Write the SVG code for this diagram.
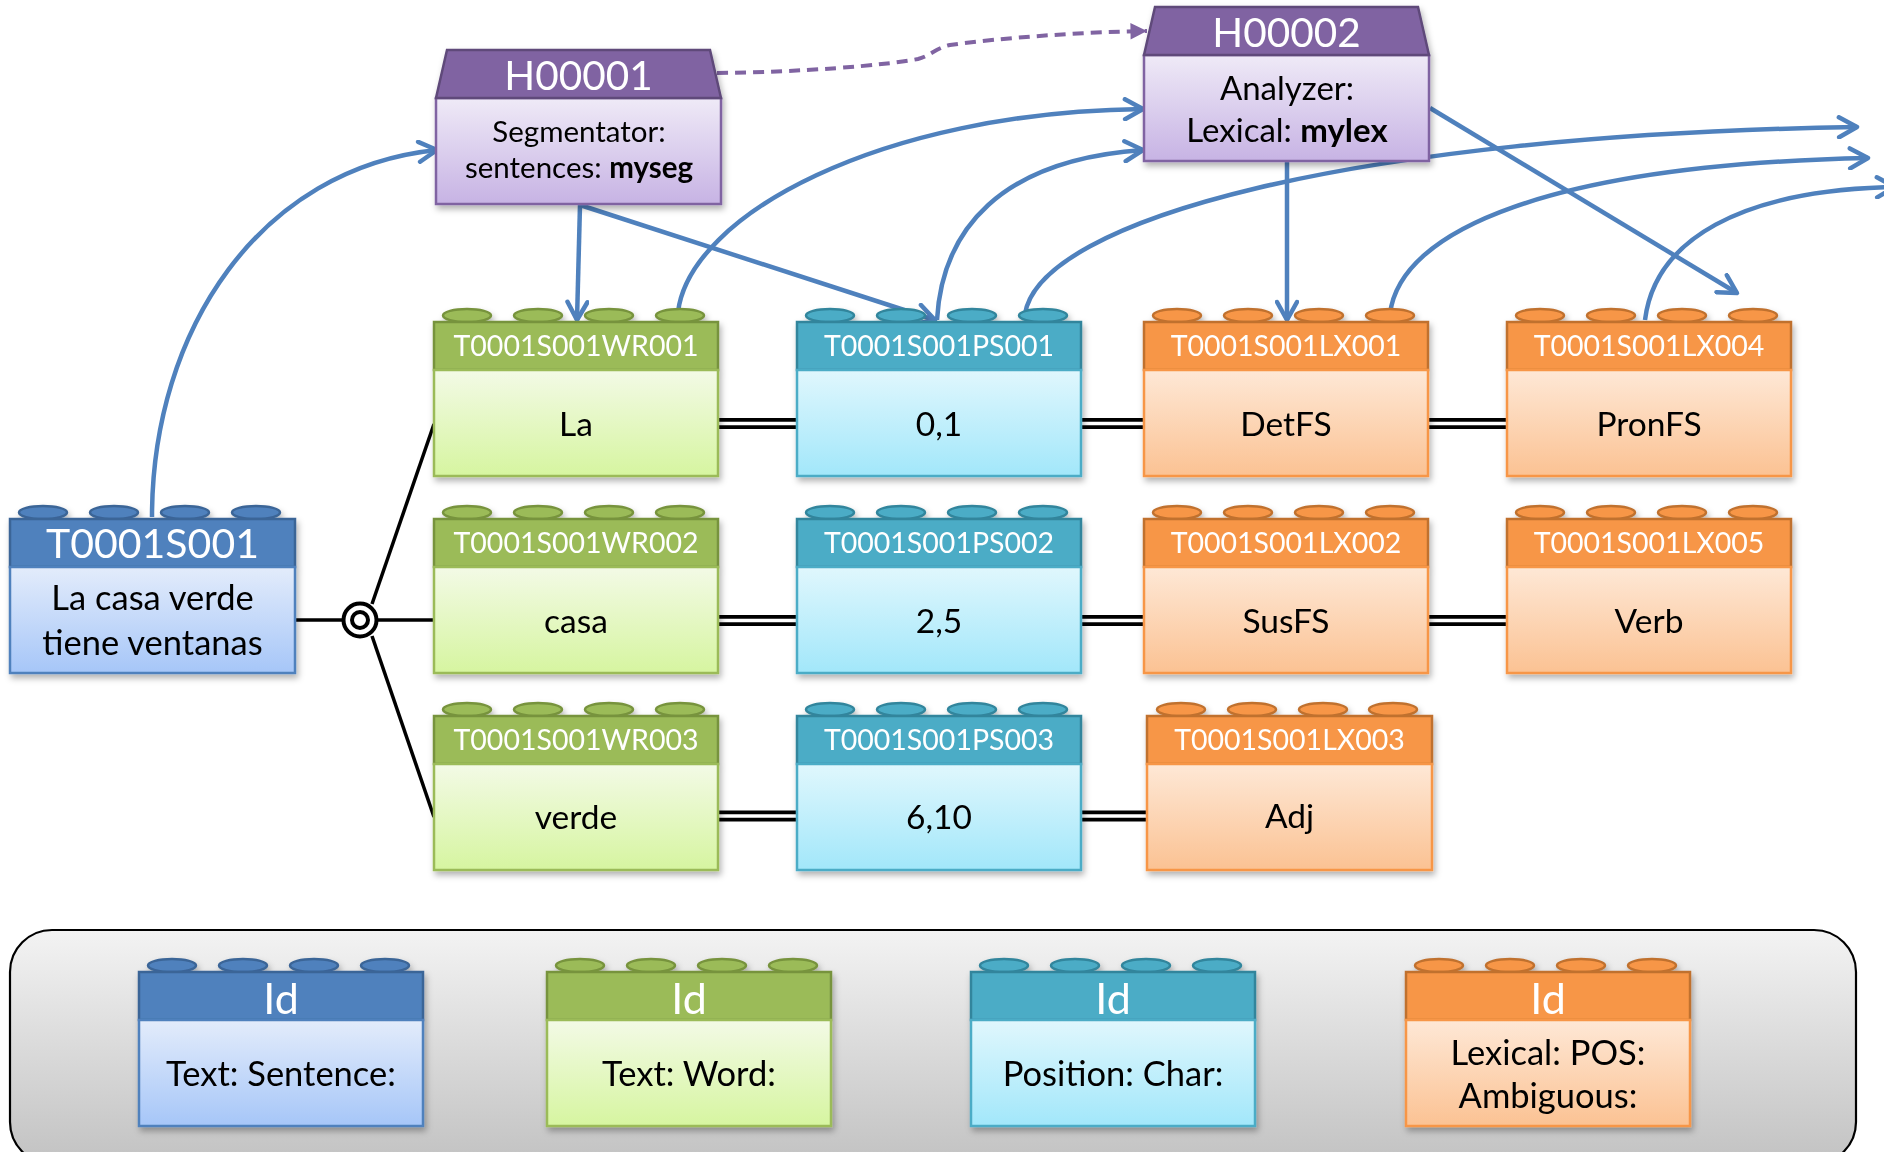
<svg xmlns="http://www.w3.org/2000/svg" width="1884" height="1152" viewBox="0 0 1884 1152">
<style>
text{font-family:Lato,"Open Sans","Liberation Sans",sans-serif;text-anchor:middle}
.id{font-size:28.5px;fill:#fff}
.val{font-size:33.5px;fill:#000}
.big{font-size:41px;fill:#fff}
.lid{font-size:43px;fill:#fff}
.lval{font-size:34.5px;fill:#000}
.blue .hd,.blue .st{fill:#4F81BD;stroke:#3B6597;stroke-width:2.5}
.blue .bd{fill:url(#gBlue);stroke:#4F81BD;stroke-width:2.5}
.green .hd,.green .st{fill:#9BBB59;stroke:#77933C;stroke-width:2.5}
.green .bd{fill:url(#gGreen);stroke:#9BBB59;stroke-width:2.5}
.teal .hd,.teal .st{fill:#4BACC6;stroke:#31859C;stroke-width:2.5}
.teal .bd{fill:url(#gTeal);stroke:#4BACC6;stroke-width:2.5}
.orange .hd,.orange .st{fill:#F79646;stroke:#C0712F;stroke-width:2.5}
.orange .bd{fill:url(#gOrange);stroke:#F79646;stroke-width:2.5}
.purple .hd{fill:#8064A2;stroke:#5F4A7A;stroke-width:2.5}
.purple .bd{fill:url(#gPurple);stroke:#8064A2;stroke-width:2.5}
.arr{fill:none;stroke:#4F81BD;stroke-width:4.5;marker-end:url(#ah)}
.dbl{stroke:#000;stroke-width:11}
.dblw{stroke:#fff;stroke-width:3.5}
.blk{stroke:#000;stroke-width:3.5;fill:none}
</style>
<defs>
<linearGradient id="gBlue" x1="0" y1="0" x2="0" y2="1"><stop offset="0" stop-color="#E3ECFB"/><stop offset="1" stop-color="#A6C6F8"/></linearGradient>
<linearGradient id="gGreen" x1="0" y1="0" x2="0" y2="1"><stop offset="0" stop-color="#F3FAE6"/><stop offset="1" stop-color="#D6F5A0"/></linearGradient>
<linearGradient id="gTeal" x1="0" y1="0" x2="0" y2="1"><stop offset="0" stop-color="#E0F7FD"/><stop offset="1" stop-color="#A2E7FA"/></linearGradient>
<linearGradient id="gOrange" x1="0" y1="0" x2="0" y2="1"><stop offset="0" stop-color="#FEE8D6"/><stop offset="1" stop-color="#FBC293"/></linearGradient>
<linearGradient id="gPurple" x1="0" y1="0" x2="0" y2="1"><stop offset="0" stop-color="#EFEAF7"/><stop offset="1" stop-color="#C7B3E4"/></linearGradient>
<linearGradient id="gLeg" x1="0" y1="0" x2="0" y2="1"><stop offset="0" stop-color="#F3F3F3"/><stop offset="1" stop-color="#C2C2C2"/></linearGradient>
<filter id="sh" x="-10%" y="-10%" width="125%" height="130%"><feDropShadow dx="2" dy="4" stdDeviation="3" flood-color="#000" flood-opacity="0.3"/></filter>
<marker id="ah" viewBox="0 0 24 24" refX="21" refY="12" markerWidth="24" markerHeight="24" orient="auto" markerUnits="userSpaceOnUse"><path d="M3,2 L21,12 L3,22" fill="none" stroke="#4F81BD" stroke-width="4.5" stroke-linecap="round" stroke-linejoin="round"/></marker>
<marker id="ahp" viewBox="0 0 24 24" refX="21" refY="12" markerWidth="22" markerHeight="22" orient="auto" markerUnits="userSpaceOnUse"><path d="M3,3 L21,12 L3,21 Z" fill="#8064A2"/></marker>
</defs>

<!-- legend background -->
<g id="legend-bg">
<rect x="10" y="930" width="1846" height="234" rx="42" fill="url(#gLeg)" stroke="#000" stroke-width="2.2"/>
</g>

<!-- connectors -->
<g id="connectors">
<line x1="295" y1="620" x2="434" y2="620" class="blk"/>
<line x1="372" y1="604" x2="434" y2="424" class="blk"/>
<line x1="372" y1="636" x2="434" y2="817" class="blk"/>
<circle cx="360" cy="620" r="16.5" fill="#fff" stroke="#000" stroke-width="4"/>
<circle cx="360" cy="620" r="8" fill="#fff" stroke="#000" stroke-width="4"/>
<g>
<line x1="717" y1="423.5" x2="797" y2="423.5" class="dbl"/><line x1="717" y1="423.5" x2="797" y2="423.5" class="dblw"/>
<line x1="1080" y1="423.5" x2="1144" y2="423.5" class="dbl"/><line x1="1080" y1="423.5" x2="1144" y2="423.5" class="dblw"/>
<line x1="1427" y1="423.5" x2="1507" y2="423.5" class="dbl"/><line x1="1427" y1="423.5" x2="1507" y2="423.5" class="dblw"/>
<line x1="717" y1="620.5" x2="797" y2="620.5" class="dbl"/><line x1="717" y1="620.5" x2="797" y2="620.5" class="dblw"/>
<line x1="1080" y1="620.5" x2="1144" y2="620.5" class="dbl"/><line x1="1080" y1="620.5" x2="1144" y2="620.5" class="dblw"/>
<line x1="1427" y1="620.5" x2="1507" y2="620.5" class="dbl"/><line x1="1427" y1="620.5" x2="1507" y2="620.5" class="dblw"/>
<line x1="717" y1="816" x2="797" y2="816" class="dbl"/><line x1="717" y1="816" x2="797" y2="816" class="dblw"/>
<line x1="1080" y1="816" x2="1147" y2="816" class="dbl"/><line x1="1080" y1="816" x2="1147" y2="816" class="dblw"/>
</g>
<path class="arr" d="M152,517 C152,330 260,168 437,150"/>
<path class="arr" d="M580,205 L577,320"/>
<path class="arr" d="M580,205 L935,320"/>
<path d="M717,73 C800,72 880,66 918,59 C930,56 936,48 950,45 C1000,38 1080,32 1147,31" fill="none" stroke="#8064A2" stroke-width="4" stroke-dasharray="11,7" marker-end="url(#ahp)"/>
<path class="arr" d="M678,312 C690,215 880,112 1143,109"/>
<path class="arr" d="M937,320 C942,230 1000,160 1143,150"/>
<path class="arr" d="M1025,314 C1040,220 1350,135 1857,127"/>
<path class="arr" d="M1287,161 L1287,320"/>
<path class="arr" d="M1430,108 L1737,293"/>
<path class="arr" d="M1390,314 C1400,230 1550,165 1868,158"/>
<path class="arr" d="M1645,320 C1655,240 1740,190 1895,187"/>
</g>

<!-- H00001 -->
<g id="H00001" class="purple" filter="url(#sh)">
<rect class="bd" x="436" y="98" width="285" height="106"/>
<polygon class="hd" points="447,50 710,50 721,98 436,98"/>
<text class="big" x="578.5" y="90" style="font-size:40.5px">H00001</text>
<text class="val" x="579" y="142" style="font-size:29.5px">Segmentator:</text>
<text class="val" x="579" y="178" style="font-size:29.5px">sentences: <tspan font-weight="700">myseg</tspan></text>
</g>

<!-- H00002 -->
<g id="H00002" class="purple" filter="url(#sh)">
<rect class="bd" x="1144" y="55" width="285" height="106"/>
<polygon class="hd" points="1155,7 1418,7 1429,55 1144,55"/>
<text class="big" x="1286.5" y="47" style="font-size:40.5px">H00002</text>
<text class="val" x="1287" y="100" style="font-size:33px">Analyzer:</text>
<text class="val" x="1287" y="142" style="font-size:33px">Lexical: <tspan font-weight="700">mylex</tspan></text>
</g>

<!-- Sentence -->
<g id="T0001S001" class="blue" transform="translate(10,519)" filter="url(#sh)">
<ellipse class="st" cx="33" cy="-6.5" rx="24" ry="6.5"/><ellipse class="st" cx="104" cy="-6.5" rx="24" ry="6.5"/><ellipse class="st" cx="175" cy="-6.5" rx="24" ry="6.5"/><ellipse class="st" cx="246" cy="-6.5" rx="24" ry="6.5"/>
<rect class="hd" x="0" y="0" width="285" height="48"/>
<rect class="bd" x="0" y="48" width="285" height="106"/>
<text class="big" x="142.5" y="39">T0001S001</text>
<text class="val" x="142.5" y="90.5" style="font-size:34.5px">La casa verde</text>
<text class="val" x="142.5" y="135.5" style="font-size:34.5px">tiene ventanas</text>
</g>

<!-- Words -->
<g id="T0001S001WR001" class="green" transform="translate(434,322)" filter="url(#sh)">
<ellipse class="st" cx="33" cy="-6.5" rx="24" ry="6.5"/><ellipse class="st" cx="104" cy="-6.5" rx="24" ry="6.5"/><ellipse class="st" cx="175" cy="-6.5" rx="24" ry="6.5"/><ellipse class="st" cx="246" cy="-6.5" rx="24" ry="6.5"/>
<rect class="hd" x="0" y="0" width="284" height="48"/><rect class="bd" x="0" y="48" width="284" height="106"/>
<text class="id" x="142" y="34">T0001S001WR001</text><text class="val" x="142" y="114">La</text>
</g>
<g id="T0001S001WR002" class="green" transform="translate(434,519)" filter="url(#sh)">
<ellipse class="st" cx="33" cy="-6.5" rx="24" ry="6.5"/><ellipse class="st" cx="104" cy="-6.5" rx="24" ry="6.5"/><ellipse class="st" cx="175" cy="-6.5" rx="24" ry="6.5"/><ellipse class="st" cx="246" cy="-6.5" rx="24" ry="6.5"/>
<rect class="hd" x="0" y="0" width="284" height="48"/><rect class="bd" x="0" y="48" width="284" height="106"/>
<text class="id" x="142" y="34">T0001S001WR002</text><text class="val" x="142" y="114">casa</text>
</g>
<g id="T0001S001WR003" class="green" transform="translate(434,716)" filter="url(#sh)">
<ellipse class="st" cx="33" cy="-6.5" rx="24" ry="6.5"/><ellipse class="st" cx="104" cy="-6.5" rx="24" ry="6.5"/><ellipse class="st" cx="175" cy="-6.5" rx="24" ry="6.5"/><ellipse class="st" cx="246" cy="-6.5" rx="24" ry="6.5"/>
<rect class="hd" x="0" y="0" width="284" height="48"/><rect class="bd" x="0" y="48" width="284" height="106"/>
<text class="id" x="142" y="34">T0001S001WR003</text><text class="val" x="142" y="113">verde</text>
</g>

<!-- Positions -->
<g id="T0001S001PS001" class="teal" transform="translate(797,322)" filter="url(#sh)">
<ellipse class="st" cx="33" cy="-6.5" rx="24" ry="6.5"/><ellipse class="st" cx="104" cy="-6.5" rx="24" ry="6.5"/><ellipse class="st" cx="175" cy="-6.5" rx="24" ry="6.5"/><ellipse class="st" cx="246" cy="-6.5" rx="24" ry="6.5"/>
<rect class="hd" x="0" y="0" width="284" height="48"/><rect class="bd" x="0" y="48" width="284" height="106"/>
<text class="id" x="142" y="34">T0001S001PS001</text><text class="val" x="142" y="114">0,1</text>
</g>
<g id="T0001S001PS002" class="teal" transform="translate(797,519)" filter="url(#sh)">
<ellipse class="st" cx="33" cy="-6.5" rx="24" ry="6.5"/><ellipse class="st" cx="104" cy="-6.5" rx="24" ry="6.5"/><ellipse class="st" cx="175" cy="-6.5" rx="24" ry="6.5"/><ellipse class="st" cx="246" cy="-6.5" rx="24" ry="6.5"/>
<rect class="hd" x="0" y="0" width="284" height="48"/><rect class="bd" x="0" y="48" width="284" height="106"/>
<text class="id" x="142" y="34">T0001S001PS002</text><text class="val" x="142" y="114">2,5</text>
</g>
<g id="T0001S001PS003" class="teal" transform="translate(797,716)" filter="url(#sh)">
<ellipse class="st" cx="33" cy="-6.5" rx="24" ry="6.5"/><ellipse class="st" cx="104" cy="-6.5" rx="24" ry="6.5"/><ellipse class="st" cx="175" cy="-6.5" rx="24" ry="6.5"/><ellipse class="st" cx="246" cy="-6.5" rx="24" ry="6.5"/>
<rect class="hd" x="0" y="0" width="284" height="48"/><rect class="bd" x="0" y="48" width="284" height="106"/>
<text class="id" x="142" y="34">T0001S001PS003</text><text class="val" x="142" y="113">6,10</text>
</g>

<!-- Lexical -->
<g id="T0001S001LX001" class="orange" transform="translate(1144,322)" filter="url(#sh)">
<ellipse class="st" cx="33" cy="-6.5" rx="24" ry="6.5"/><ellipse class="st" cx="104" cy="-6.5" rx="24" ry="6.5"/><ellipse class="st" cx="175" cy="-6.5" rx="24" ry="6.5"/><ellipse class="st" cx="246" cy="-6.5" rx="24" ry="6.5"/>
<rect class="hd" x="0" y="0" width="284" height="48"/><rect class="bd" x="0" y="48" width="284" height="106"/>
<text class="id" x="142" y="34">T0001S001LX001</text><text class="val" x="142" y="114">DetFS</text>
</g>
<g id="T0001S001LX002" class="orange" transform="translate(1144,519)" filter="url(#sh)">
<ellipse class="st" cx="33" cy="-6.5" rx="24" ry="6.5"/><ellipse class="st" cx="104" cy="-6.5" rx="24" ry="6.5"/><ellipse class="st" cx="175" cy="-6.5" rx="24" ry="6.5"/><ellipse class="st" cx="246" cy="-6.5" rx="24" ry="6.5"/>
<rect class="hd" x="0" y="0" width="284" height="48"/><rect class="bd" x="0" y="48" width="284" height="106"/>
<text class="id" x="142" y="34">T0001S001LX002</text><text class="val" x="142" y="114">SusFS</text>
</g>
<g id="T0001S001LX003" class="orange" transform="translate(1147,716)" filter="url(#sh)">
<ellipse class="st" cx="34" cy="-6.5" rx="24" ry="6.5"/><ellipse class="st" cx="105" cy="-6.5" rx="24" ry="6.5"/><ellipse class="st" cx="176" cy="-6.5" rx="24" ry="6.5"/><ellipse class="st" cx="246" cy="-6.5" rx="24" ry="6.5"/>
<rect class="hd" x="0" y="0" width="285" height="48"/><rect class="bd" x="0" y="48" width="285" height="106"/>
<text class="id" x="142.5" y="34">T0001S001LX003</text><text class="val" x="142.5" y="112">Adj</text>
</g>
<g id="T0001S001LX004" class="orange" transform="translate(1507,322)" filter="url(#sh)">
<ellipse class="st" cx="33" cy="-6.5" rx="24" ry="6.5"/><ellipse class="st" cx="104" cy="-6.5" rx="24" ry="6.5"/><ellipse class="st" cx="175" cy="-6.5" rx="24" ry="6.5"/><ellipse class="st" cx="246" cy="-6.5" rx="24" ry="6.5"/>
<rect class="hd" x="0" y="0" width="284" height="48"/><rect class="bd" x="0" y="48" width="284" height="106"/>
<text class="id" x="142" y="34">T0001S001LX004</text><text class="val" x="142" y="114">PronFS</text>
</g>
<g id="T0001S001LX005" class="orange" transform="translate(1507,519)" filter="url(#sh)">
<ellipse class="st" cx="33" cy="-6.5" rx="24" ry="6.5"/><ellipse class="st" cx="104" cy="-6.5" rx="24" ry="6.5"/><ellipse class="st" cx="175" cy="-6.5" rx="24" ry="6.5"/><ellipse class="st" cx="246" cy="-6.5" rx="24" ry="6.5"/>
<rect class="hd" x="0" y="0" width="284" height="48"/><rect class="bd" x="0" y="48" width="284" height="106"/>
<text class="id" x="142" y="34">T0001S001LX005</text><text class="val" x="142" y="114">Verb</text>
</g>

<!-- Legend nodes -->
<g id="legend-sentence" class="blue" transform="translate(139,972)" filter="url(#sh)">
<ellipse class="st" cx="33" cy="-6.5" rx="24" ry="6.5"/><ellipse class="st" cx="104" cy="-6.5" rx="24" ry="6.5"/><ellipse class="st" cx="175" cy="-6.5" rx="24" ry="6.5"/><ellipse class="st" cx="246" cy="-6.5" rx="24" ry="6.5"/>
<rect class="hd" x="0" y="0" width="284" height="48"/><rect class="bd" x="0" y="48" width="284" height="106"/>
<text class="lid" x="142" y="42">Id</text><text class="lval" x="142" y="114">Text: Sentence:</text>
</g>
<g id="legend-word" class="green" transform="translate(547,972)" filter="url(#sh)">
<ellipse class="st" cx="33" cy="-6.5" rx="24" ry="6.5"/><ellipse class="st" cx="104" cy="-6.5" rx="24" ry="6.5"/><ellipse class="st" cx="175" cy="-6.5" rx="24" ry="6.5"/><ellipse class="st" cx="246" cy="-6.5" rx="24" ry="6.5"/>
<rect class="hd" x="0" y="0" width="284" height="48"/><rect class="bd" x="0" y="48" width="284" height="106"/>
<text class="lid" x="142" y="42">Id</text><text class="lval" x="142" y="114">Text: Word:</text>
</g>
<g id="legend-position" class="teal" transform="translate(971,972)" filter="url(#sh)">
<ellipse class="st" cx="33" cy="-6.5" rx="24" ry="6.5"/><ellipse class="st" cx="104" cy="-6.5" rx="24" ry="6.5"/><ellipse class="st" cx="175" cy="-6.5" rx="24" ry="6.5"/><ellipse class="st" cx="246" cy="-6.5" rx="24" ry="6.5"/>
<rect class="hd" x="0" y="0" width="284" height="48"/><rect class="bd" x="0" y="48" width="284" height="106"/>
<text class="lid" x="142" y="42">Id</text><text class="lval" x="142" y="114">Position: Char:</text>
</g>
<g id="legend-lexical" class="orange" transform="translate(1406,972)" filter="url(#sh)">
<ellipse class="st" cx="33" cy="-6.5" rx="24" ry="6.5"/><ellipse class="st" cx="104" cy="-6.5" rx="24" ry="6.5"/><ellipse class="st" cx="175" cy="-6.5" rx="24" ry="6.5"/><ellipse class="st" cx="246" cy="-6.5" rx="24" ry="6.5"/>
<rect class="hd" x="0" y="0" width="284" height="48"/><rect class="bd" x="0" y="48" width="284" height="106"/>
<text class="lid" x="142" y="42">Id</text><text class="lval" x="142" y="93">Lexical: POS:</text><text class="lval" x="142" y="136">Ambiguous:</text>
</g>
</svg>
